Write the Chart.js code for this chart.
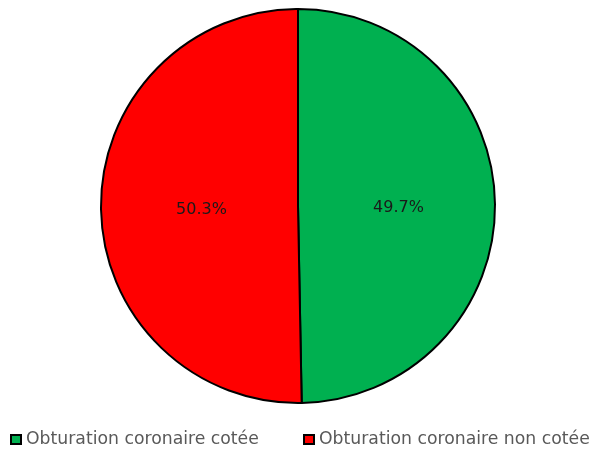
<!DOCTYPE html>
<html>
<head>
<meta charset="utf-8">
<script src="https://cdn.jsdelivr.net/npm/chart.js"></script>
<style>
  html, body { margin: 0; padding: 0; background: #fff; }
  #wrap { width: 593px; height: 450px; position: relative; }
</style>
</head>
<body>
<div id="wrap"><canvas id="pieChart"></canvas></div>
<script>
// Données du graphique
const categories = ['Obturation coronaire cotée', 'Obturation coronaire non cotée'];
const percentages = [49.7, 50.3];
const sliceColors = ['#00b050', '#ff0000'];

const fontFamily = '"DejaVu Sans", sans-serif';

// Pourcentages écrits au milieu de chaque part
const sliceLabels = {
    id: 'sliceLabels',
    afterDatasetsDraw(chart) {
        const ctx = chart.ctx;
        const meta = chart.getDatasetMeta(0);
        ctx.save();
        ctx.font = '16px ' + fontFamily;
        ctx.fillStyle = '#1a1a1a';
        ctx.textAlign = 'center';
        ctx.textBaseline = 'middle';
        meta.data.forEach((arc, i) => {
            const p = arc.tooltipPosition();
            ctx.fillText(percentages[i].toFixed(1) + '%', p.x + 2, p.y + 3);
        });
        ctx.restore();
    }
};

// Légende en bas, dessinée à la main (carrés à bord noir)
const bottomLegend = {
    id: 'bottomLegend',
    afterDraw(chart) {
        const ctx = chart.ctx;
        const starts = [11, 304];
        const y = 440;
        ctx.save();
        // taille de police ajustée pour que le premier libellé fasse ~233px
        ctx.font = '100px ' + fontFamily;
        const size = 100 * 233 / ctx.measureText(categories[0]).width;
        ctx.font = size.toFixed(2) + 'px ' + fontFamily;
        ctx.textBaseline = 'middle';
        categories.forEach((label, i) => {
            const x = starts[i];
            ctx.fillStyle = sliceColors[i];
            ctx.fillRect(x, y - 5, 10, 9);
            ctx.strokeStyle = '#000';
            ctx.lineWidth = 2;
            ctx.strokeRect(x, y - 5, 10, 9);
            ctx.fillStyle = '#595959';
            ctx.fillText(label, x + 15, y);
        });
        ctx.restore();
    }
};

const ctx = document.getElementById('pieChart').getContext('2d');
new Chart(ctx, {
    type: 'pie',
    data: {
        labels: categories,
        datasets: [{
            data: percentages,
            backgroundColor: sliceColors,
            borderColor: '#000',
            borderWidth: 2
        }]
    },
    options: {
        responsive: true,
        maintainAspectRatio: false,
        animation: false,
        layout: { padding: { top: 8, bottom: 46, left: 3, right: 0 } },
        plugins: {
            legend: { display: false },
            tooltip: { enabled: false }
        }
    },
    plugins: [sliceLabels, bottomLegend]
});
</script>
</body>
</html>
